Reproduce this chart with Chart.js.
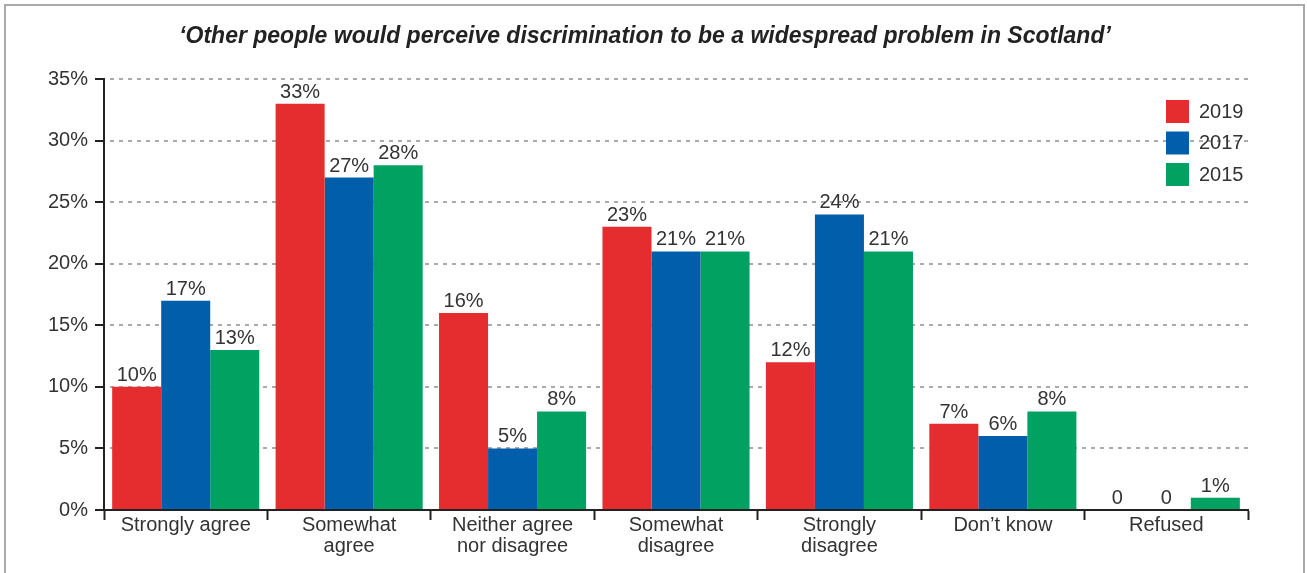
<!DOCTYPE html>
<html>
<head>
<meta charset="utf-8">
<script src="https://cdn.jsdelivr.net/npm/chart.js@4"></script>
<style>
  html, body { margin: 0; padding: 0; background: #fff; }
  canvas { display: block; }
</style>
</head>
<body>
<canvas id="c" width="1307" height="573"></canvas>
<script>
const titleText = '‘Other people would perceive discrimination to be a widespread problem in Scotland’';
const categories = [
  'Strongly agree',
  ['Somewhat', 'agree'],
  ['Neither agree', 'nor disagree'],
  ['Somewhat', 'disagree'],
  ['Strongly', 'disagree'],
  'Don’t know',
  'Refused'
];
const seriesLabels = ['2019', '2017', '2015'];
const values2019 = [10, 33, 16, 23, 12, 7, 0];
const values2017 = [17, 27, 5, 21, 24, 6, 0];
const values2015 = [13, 28, 8, 21, 21, 8, 1];
const yMax = 35;
const yStep = 5;

const FONT = "'Liberation Sans', Arial, sans-serif";
const TEXT = '#333';
const colors = ['#E52D2F', '#005EAA', '#00A161'];

const framePlugin = {
  id: 'frame',
  beforeDraw(chart) {
    const ctx = chart.ctx;
    ctx.save();
    ctx.strokeStyle = '#aaa';
    ctx.lineWidth = 2;
    ctx.strokeRect(5, 5, 1299, 600);
    ctx.fillStyle = '#222';
    ctx.font = 'italic bold 23px ' + FONT;
    ctx.textAlign = 'center';
    ctx.textBaseline = 'middle';
    ctx.fillText(titleText, 645, 37);
    ctx.restore();
  }
};

const labelPlugin = {
  id: 'valueLabels',
  afterDatasetsDraw(chart) {
    const ctx = chart.ctx;
    ctx.save();
    ctx.font = '20px ' + FONT;
    ctx.fillStyle = TEXT;
    ctx.textAlign = 'center';
    ctx.textBaseline = 'alphabetic';
    chart.data.datasets.forEach((ds, di) => {
      const meta = chart.getDatasetMeta(di);
      meta.data.forEach((el, i) => {
        const v = ds.data[i];
        const txt = v === 0 ? '0' : v + '%';
        ctx.fillText(txt, el.x, el.y - 6);
      });
    });
    ctx.restore();
  }
};

const legendPlugin = {
  id: 'customLegend',
  afterDraw(chart) {
    const ctx = chart.ctx;
    ctx.save();
    ctx.font = '20px ' + FONT;
    ctx.textAlign = 'left';
    ctx.textBaseline = 'middle';
    chart.data.datasets.forEach((ds, i) => {
      const y = 100 + i * 31.5;
      ctx.fillStyle = ds.backgroundColor;
      ctx.fillRect(1166, y, 23, 23);
      ctx.fillStyle = TEXT;
      ctx.fillText(ds.label, 1199, y + 12);
    });
    ctx.restore();
  }
};

new Chart(document.getElementById('c'), {
  type: 'bar',
  data: {
    labels: categories,
    datasets: [
      { label: seriesLabels[0], data: values2019, backgroundColor: colors[0] },
      { label: seriesLabels[1], data: values2017, backgroundColor: colors[1] },
      { label: seriesLabels[2], data: values2015, backgroundColor: colors[2] }
    ]
  },
  options: {
    responsive: false,
    animation: false,
    devicePixelRatio: 1,
    layout: { padding: { left: 0, right: 59, top: 79, bottom: 0 } },
    datasets: { bar: { categoryPercentage: 0.9, barPercentage: 1.0, borderWidth: 0 } },
    plugins: {
      legend: { display: false },
      title: { display: false },
      tooltip: { enabled: false }
    },
    scales: {
      x: {
        grid: {
          offset: true,
          drawOnChartArea: false,
          drawTicks: true,
          tickLength: 10,
          tickColor: '#222',
          tickWidth: 2
        },
        border: { display: true, color: '#222', width: 2 },
        ticks: {
          color: TEXT,
          font: { family: FONT, size: 20, lineHeight: 1.05 },
          padding: -5,
          maxRotation: 0,
          autoSkip: false
        },
        afterFit(scale) { scale.height = 63; }
      },
      y: {
        min: 0,
        max: yMax,
        grid: {
          color: (ctx) => (ctx.tick && ctx.tick.value === 0) ? 'rgba(0,0,0,0)' : '#aaa',
          lineWidth: 2,
          tickLength: 9,
          tickColor: '#222',
          tickWidth: 2,
          tickBorderDash: []
        },
        border: { display: true, color: '#222', width: 2, dash: [4, 5], dashOffset: 4 },
        ticks: {
          stepSize: yStep,
          color: TEXT,
          font: { family: FONT, size: 20 },
          padding: 7,
          callback: (v) => v + '%'
        },
        afterFit(scale) { scale.width = 104; }
      }
    }
  },
  plugins: [framePlugin, labelPlugin, legendPlugin]
});
</script>
</body>
</html>
